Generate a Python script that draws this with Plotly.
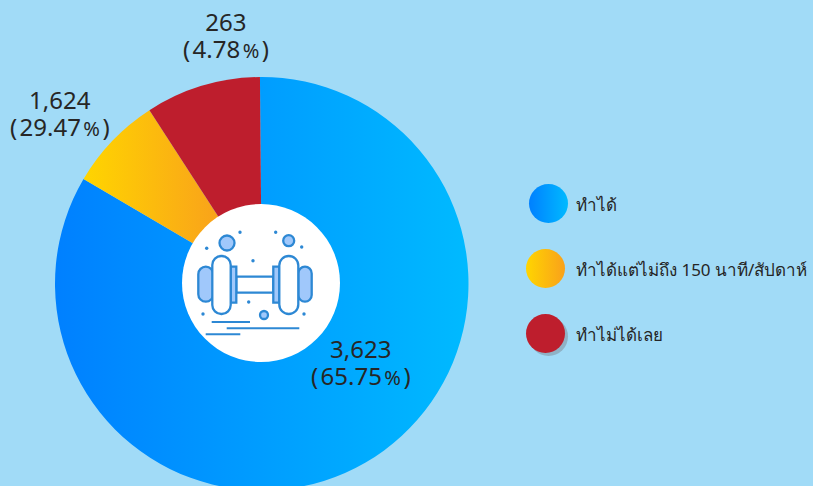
import plotly.graph_objects as go

categories = ["ทำได้", "ทำได้แต่ไม่ถึง 150 นาที/สัปดาห์", "ทำไม่ได้เลย"]
count_labels = ["3,623", "1,624", "263"]
percent_labels = ["65.75", "29.47", "4.78"]
# The reference's slice sweeps do not follow its printed numbers; these are the drawn shares.
drawn_share = [83.6, 7.4, 9.0]
flat_colors = ["#00a0ff", "#fdbb10", "#be1e2d"]
grad_left = ["#0080ff", "#ffd500", "#be1e2d"]
grad_right = ["#00baff", "#f9a11b", "#be1e2d"]

W, H = 813, 500
BG = "#a1dbf7"
TXT = "#262626"
FONT = "Noto Sans, Open Sans, sans-serif"
ICON = "#2d88d4"
ICON_FILL = "#a0c8fb"

fig = go.Figure()
fig.add_trace(go.Pie(
    labels=categories, values=drawn_share, sort=False, direction="clockwise",
    rotation=-0.5, textinfo="none", hoverinfo="skip", showlegend=False,
    marker=dict(colors=flat_colors, line=dict(width=0)),
    domain=dict(x=[55 / W, 468.5 / W], y=[(H - 490.5) / H, (H - 77) / H]),
))

# legend markers
leg_x = [548.5, 545.5, 545.5]
leg_y = [203.5, 268.5, 333.5]
fig.add_trace(go.Scatter(x=[leg_x[2] + 3], y=[leg_y[2] + 3], mode="markers", hoverinfo="skip",
                         marker=dict(size=39, color="#8fb2c6", line=dict(width=0)), showlegend=False))
fig.add_trace(go.Scatter(x=leg_x, y=leg_y, mode="markers", hoverinfo="skip", showlegend=False,
                         marker=dict(size=39, color=grad_left, line=dict(width=0),
                                     gradient=dict(type="horizontal", color=grad_right))))

anns = []
label_pos = [(361, 364), (60, 115), (226, 37)]
HS = "\u200a"
for (x, y), c, p in zip(label_pos, count_labels, percent_labels):
    text = f'{c}<br>({HS}{p}{HS}<span style="font-size:20px">%</span>{HS})'
    anns.append(dict(x=x, y=y, xref="x", yref="y", text=text, showarrow=False, align="center",
                     font=dict(family=FONT, size=24, color=TXT), xanchor="center", yanchor="middle"))
for y, c in zip(leg_y, categories):
    anns.append(dict(x=573.5, y=y + 1, xref="x", yref="y", text=c, showarrow=False, xanchor="left", yanchor="middle",
                     font=dict(family=FONT, size=17, color=TXT)))

# centre disc and dumbbell icon
def circle(cx, cy, r, fill, lw=0):
    return dict(type="circle", xref="x", yref="y", x0=cx - r, x1=cx + r, y0=cy - r, y1=cy + r, layer="above",
                fillcolor=fill, line=dict(color=ICON, width=lw))

def rrect(x0, x1, y0, y1, r, fill, lw=2.3):
    k = 0.55 * r
    p = (f"M{x0+r},{y0} L{x1-r},{y0} C{x1-r+k},{y0} {x1},{y0+r-k} {x1},{y0+r} L{x1},{y1-r} "
         f"C{x1},{y1-r+k} {x1-r+k},{y1} {x1-r},{y1} L{x0+r},{y1} C{x0+r-k},{y1} {x0},{y1-r+k} {x0},{y1-r} "
         f"L{x0},{y0+r} C{x0},{y0+r-k} {x0+r-k},{y0} {x0+r},{y0} Z")
    return dict(type="path", path=p, xref="x", yref="y", layer="above", fillcolor=fill,
                line=dict(color=ICON, width=lw))

def hline(x0, x1, y, lw=2):
    return dict(type="line", xref="x", yref="y", x0=x0, x1=x1, y0=y, y1=y, layer="above",
                line=dict(color=ICON, width=lw))

shapes = [circle(261, 283, 79, "white")]
shapes += [
    rrect(236.3, 273.3, 276.7, 292.7, 0, "white"),
    rrect(230.7, 236.3, 266.7, 302.7, 0, ICON_FILL),
    rrect(273.3, 279.3, 266.7, 302.7, 0, ICON_FILL),
    rrect(198.3, 213.3, 266.7, 301.7, 7.5, ICON_FILL),
    rrect(298.3, 311.7, 266.7, 301.7, 6.7, ICON_FILL),
    rrect(212.3, 230.7, 256, 314, 9, "white"),
    rrect(279.3, 298.3, 256, 314, 9.5, "white"),
    circle(227, 243, 7.5, ICON_FILL, 2.3),
    circle(288.7, 240.7, 5.5, ICON_FILL, 2.3),
    circle(264, 315, 4, ICON_FILL, 2.3),
]
dots = [(240, 232.3), (206.7, 248.3), (275.7, 232.3), (301.7, 247), (253, 260.7), (248.7, 302), (203, 314), (304, 314)]
shapes += [circle(x, y, 1.7, ICON) for x, y in dots]
shapes += [hline(211.7, 250, 322), hline(226.7, 299.3, 328.3), hline(205.7, 240.3, 334.3)]

fig.update_layout(
    width=W, height=H, margin=dict(l=0, r=0, t=0, b=0), paper_bgcolor=BG, plot_bgcolor=BG,
    xaxis=dict(range=[0, W], visible=False, fixedrange=True),
    yaxis=dict(range=[H, 0], visible=False, fixedrange=True),
    annotations=anns, shapes=shapes,
)

post = """
document.documentElement.style.overflow='hidden';
document.body.style.overflow='hidden';
document.body.style.margin='0';
(function(){
  var gd=document.getElementById('{plot_id}');
  var svg=gd.querySelector('svg.main-svg');
  var ns='http://www.w3.org/2000/svg';
  var defs=document.createElementNS(ns,'defs');
  var L=%s, R=%s;
  L.forEach(function(c,i){
    var g=document.createElementNS(ns,'linearGradient');
    g.setAttribute('id','slicegrad'+i);
    g.setAttribute('x1','0');g.setAttribute('x2',i==1?'0.78':'1');g.setAttribute('y1','0');g.setAttribute('y2','0');
    [[0,c],[1,R[i]]].forEach(function(s){
      var st=document.createElementNS(ns,'stop');
      st.setAttribute('offset',s[0]);st.setAttribute('stop-color',s[1]);g.appendChild(st);
    });
    defs.appendChild(g);
  });
  svg.insertBefore(defs,svg.firstChild);
  gd.querySelectorAll('.pielayer .slice path.surface').forEach(function(p,i){
    p.style.fill='url(#slicegrad'+i+')';
  });
  // tighten the two-line value labels to the reference's 27px leading
  gd.querySelectorAll('.annotation-text tspan.line').forEach(function(t){
    if(parseFloat(t.getAttribute('dy'))>0) t.setAttribute('dy','27px');
  });
})();
""" % (grad_left, grad_right)

fig.write_html("out.html", post_script=post, config={"displayModeBar": False})
